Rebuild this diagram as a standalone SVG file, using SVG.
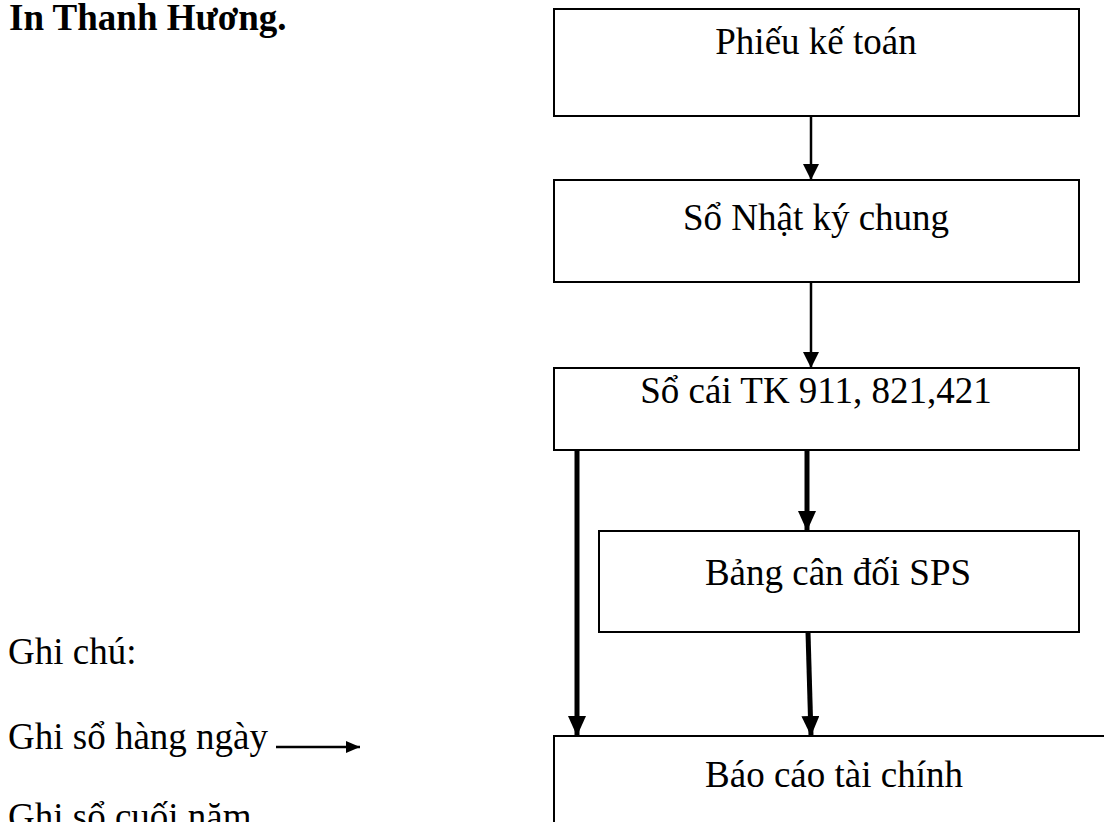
<svg xmlns="http://www.w3.org/2000/svg" width="1104" height="822" viewBox="0 0 1104 822">
  <style>
    text { font-family: "Liberation Serif", "Times New Roman", serif; font-size: 37px; fill: #000; }
    .title { font-weight: bold; }
    .mid { text-anchor: middle; }
    .box { fill: #fff; stroke: #000; stroke-width: 2; }
    .thin { stroke: #000; stroke-width: 2.5; fill: none; }
    .thick { stroke: #000; stroke-width: 5; fill: none; }
  </style>
  <defs>
    <marker id="headThin" viewBox="0 0 16 16" refX="16" refY="8" markerWidth="16" markerHeight="16" markerUnits="userSpaceOnUse" orient="auto">
      <path d="M0,0 L16,8 L0,16 Z" fill="#000"/>
    </marker>
    <marker id="headThick" viewBox="0 0 20 18" refX="20" refY="9" markerWidth="20" markerHeight="18" markerUnits="userSpaceOnUse" orient="auto">
      <path d="M0,0 L20,9 L0,18 Z" fill="#000"/>
    </marker>
    <marker id="headLegend" viewBox="0 0 14 12" refX="14" refY="6" markerWidth="14" markerHeight="12" markerUnits="userSpaceOnUse" orient="auto">
      <path d="M0,0 L14,6 L0,12 Z" fill="#000"/>
    </marker>
  </defs>

  <rect width="1104" height="822" fill="#fff"/>

  <text class="title" x="9" y="30">In Thanh Hương.</text>

  <!-- flow boxes -->
  <g id="phieu-ke-toan">
    <rect class="box" x="554" y="9" width="525" height="107"/>
    <text class="mid" x="816" y="54">Phiếu kế toán</text>
  </g>
  <g id="so-nhat-ky-chung">
    <rect class="box" x="554" y="180" width="525" height="102"/>
    <text class="mid" x="816" y="230">Sổ Nhật ký chung</text>
  </g>
  <g id="so-cai">
    <rect class="box" x="554" y="368" width="525" height="82"/>
    <text class="mid" x="816" y="403">Sổ cái TK 911, 821,421</text>
  </g>
  <g id="bang-can-doi-sps">
    <rect class="box" x="599" y="531" width="480" height="101"/>
    <text class="mid" x="838" y="585">Bảng cân đối SPS</text>
  </g>
  <g id="bao-cao-tai-chinh">
    <rect class="box" x="554" y="736" width="560" height="100"/>
    <text class="mid" x="834" y="787">Báo cáo tài chính</text>
  </g>

  <!-- connectors -->
  <g id="connectors">
    <line class="thin" x1="811" y1="116" x2="811" y2="180" marker-end="url(#headThin)"/>
    <line class="thin" x1="811" y1="282" x2="811" y2="368" marker-end="url(#headThin)"/>
    <line class="thick" x1="807" y1="450" x2="807" y2="531" marker-end="url(#headThick)"/>
    <line class="thick" x1="577" y1="450" x2="577" y2="736" marker-end="url(#headThick)"/>
    <line class="thick" x1="808" y1="632" x2="811" y2="736" marker-end="url(#headThick)"/>
  </g>

  <!-- legend -->
  <g id="legend">
    <text x="8" y="664">Ghi chú:</text>
    <text x="8" y="749">Ghi sổ hàng ngày</text>
    <line class="thin" x1="276" y1="747" x2="360" y2="747" marker-end="url(#headLegend)"/>
    <text x="8" y="829">Ghi sổ cuối năm</text>
    <line class="thick" x1="276" y1="828" x2="360" y2="828" marker-end="url(#headLegend)"/>
  </g>
</svg>
